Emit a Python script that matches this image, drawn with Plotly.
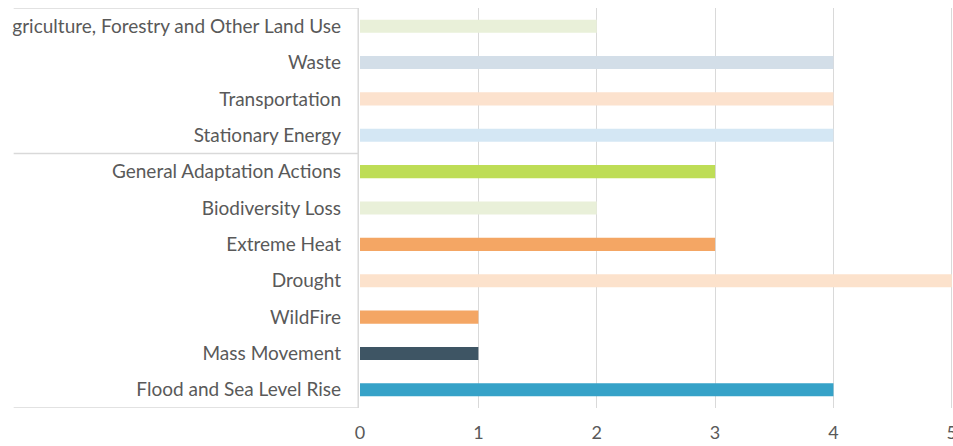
import plotly.graph_objects as go

categories = [
    "Flood and Sea Level Rise",
    "Mass Movement",
    "WildFire",
    "Drought",
    "Extreme Heat",
    "Biodiversity Loss",
    "General Adaptation Actions",
    "Stationary Energy",
    "Transportation",
    "Waste",
    "Agriculture, Forestry and Other Land Use",
]
values = [4, 1, 1, 5, 3, 2, 3, 4, 4, 4, 2]
colors = [
    "#36A2C8",
    "#3E5564",
    "#F4A664",
    "#FCE2CC",
    "#F4A664",
    "#E9F0D9",
    "#BEDD56",
    "#D4E7F4",
    "#FCE2CE",
    "#D3DEE8",
    "#E9F0D9",
]
x_ticks = [0, 1, 2, 3, 4, 5]

fig = go.Figure(
    go.Bar(
        y=categories,
        x=values,
        orientation="h",
        marker=dict(color=colors, line=dict(width=0)),
        width=0.36,
        hoverinfo="x+y",
    )
)

font_family = "Lato, 'Open Sans', sans-serif"

fig.update_layout(
    width=953,
    height=446,
    margin=dict(l=360, r=0, t=8, b=38),
    paper_bgcolor="white",
    plot_bgcolor="white",
    showlegend=False,
    font=dict(family=font_family, color="#595959", size=18),
)

fig.update_xaxes(
    range=[0, 5.01],
    tickvals=x_ticks,
    ticktext=[str(v) for v in x_ticks],
    showgrid=True,
    gridcolor="#D9D9D9",
    gridwidth=1,
    zeroline=False,
    showline=False,
    ticks="",
    tickfont=dict(size=18, color="#595959"),
    ticklabelstandoff=12,
    ticklabeloverflow="allow",
    automargin=False,
    fixedrange=True,
)

fig.update_yaxes(
    categoryorder="array",
    categoryarray=categories,
    range=[-0.5, len(categories) - 0.5],
    showgrid=False,
    zeroline=False,
    showline=False,
    ticks="",
    tickfont=dict(size=19, color="#595959"),
    ticklabelstandoff=18,
    automargin=False,
    fixedrange=True,
)

line_col = "#D9D9D9"
# category box lines (Excel-style grouping)
x_left = -0.584
x_axis = -0.003
top = len(categories) - 0.5
for yv in (top, 6.5, -0.5):
    fig.add_shape(type="line", xref="paper", yref="y", x0=x_left, x1=x_axis,
                  y0=yv, y1=yv, line=dict(color=line_col, width=1.5))
fig.add_shape(type="line", xref="paper", yref="y", x0=x_axis, x1=x_axis,
              y0=-0.5, y1=top, line=dict(color=line_col, width=1.5))
# crop mask on far left edge, as in the reference image
fig.add_shape(type="rect", xref="paper", yref="paper", x0=-0.62, x1=-0.586,
              y0=0.9, y1=1.02, fillcolor="white", line=dict(width=0), layer="above")

post = (
    "document.documentElement.style.overflow='hidden';"
    "document.body.style.margin='0';document.body.style.overflow='hidden';"
)

fig.write_html(
    "out.html",
    config={"displayModeBar": False},
    post_script=post,
)
